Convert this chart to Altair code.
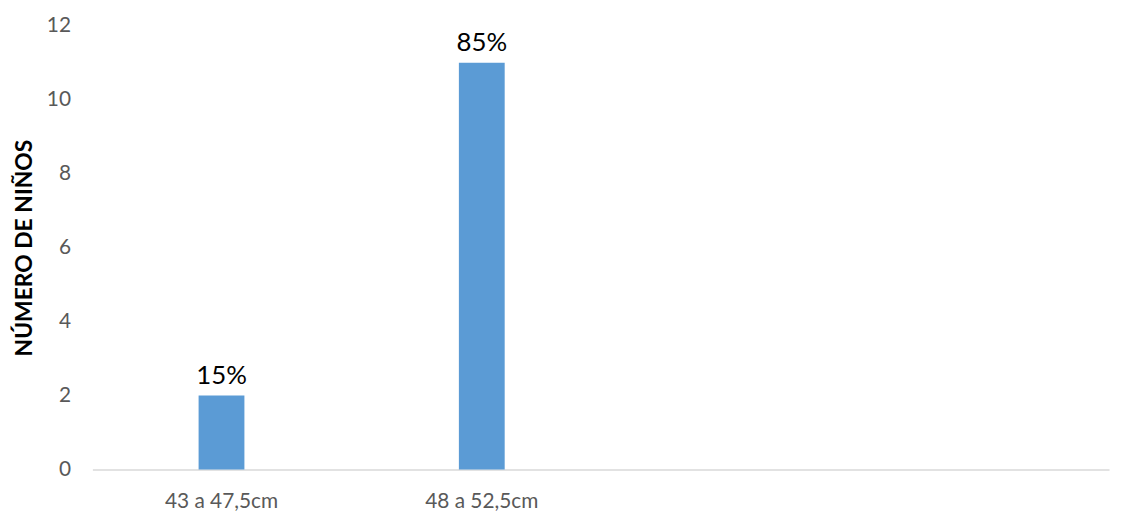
import altair as alt
import pandas as pd

categories = ["43 a 47,5cm", "48 a 52,5cm"]
domain_slots = ["43 a 47,5cm", "48 a 52,5cm", "", " "]
counts = [2, 11]
pct_labels = ["15%", "85%"]
y_ticks = [0, 2, 4, 6, 8, 10, 12]

df = pd.DataFrame({"cat": categories, "n": counts, "pct": pct_labels})

FONT = "Lato"

x = alt.X(
    "cat:N",
    sort=domain_slots,
    scale=alt.Scale(domain=domain_slots, paddingInner=0.824, paddingOuter=0.365, align=0.559),
    axis=alt.Axis(
        title=None, labelAngle=0, labelFontSize=21, labelColor="#595959",
        labelFont=FONT, labelPadding=21, ticks=False, domainColor="#D9D9D9",
        domainWidth=1.5,
    ),
)
y = alt.Y(
    "n:Q",
    scale=alt.Scale(domain=[0, 12]),
    axis=alt.Axis(
        title="NÚMERO DE NIÑOS", titleFont=FONT, titleFontSize=23,
        titleFontWeight="bold", titleColor="#000000", titlePadding=10,
        values=y_ticks, labelFontSize=21, labelColor="#595959",
        labelFont=FONT, labelPadding=22, ticks=False, domain=False, grid=False,
    ),
)

bars = alt.Chart(df).mark_bar(color="#5B9BD5").encode(x=x, y=y)
text = alt.Chart(df).mark_text(
    dy=-12, baseline="alphabetic", fontSize=26, font=FONT, color="#000000"
).encode(x=x, y=y, text="pct:N")

chart = (bars + text).properties(
    width=1024, height=447,
    padding={"left": 5, "top": 5, "right": 5, "bottom": 5},
).configure_view(stroke=None)

chart.save("out.html", embed_options={"renderer": "svg", "actions": False})
